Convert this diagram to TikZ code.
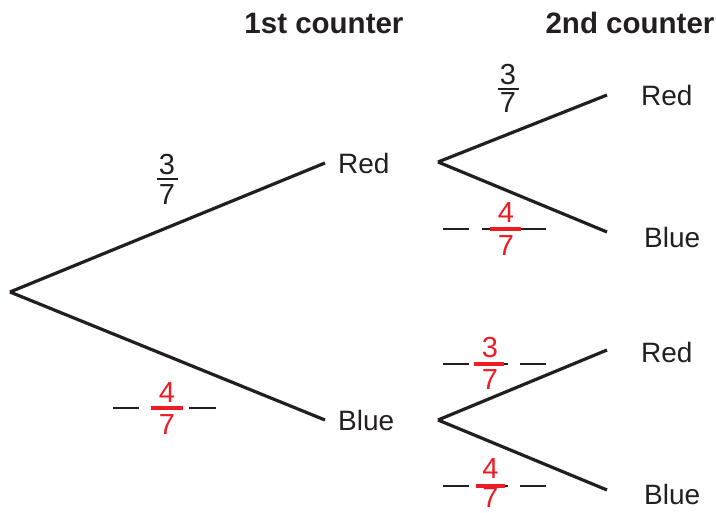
\documentclass[tikz,border=0pt]{standalone}
\usepackage{fontspec}
\setmainfont{Liberation Sans}
\definecolor{ink}{RGB}{35,31,32}
\definecolor{fred}{RGB}{237,28,36}
\begin{document}
\begin{tikzpicture}[x=1pt,y=-1pt,
  branch/.style={line width=3.2pt, draw=ink},
  lbl/.style={font=\fontsize{28}{32}\selectfont, text=ink, inner sep=0pt, anchor=west},
  hdr/.style={font=\fontsize{29.5}{33}\selectfont\bfseries, text=ink, inner sep=0pt},
  bnum/.style={font=\fontsize{29}{32}\selectfont, text=ink, inner sep=0pt},
  rnum/.style={font=\fontsize{29}{32}\selectfont, text=fred, inner sep=0pt},
  fbar/.style={line width=2.2pt, draw=ink},
  rbar/.style={line width=4pt, draw=fred},
  gapline/.style={line width=2.5pt, draw=ink}]
\useasboundingbox (0,0) rectangle (716,513);

% headers
\node[hdr] (h1) at (324,23) {1st counter};
\node[hdr] (h2) at (630,23) {2nd counter};

% tree points
\coordinate (root) at (10,292);
\coordinate (e1r) at (325,163);
\coordinate (e1b) at (325,420);
\coordinate (s2r) at (438,162);
\coordinate (s2b) at (438,420);
\coordinate (e2rr) at (607,95);
\coordinate (e2rb) at (607,232);
\coordinate (e2br) at (607,350);
\coordinate (e2bb) at (607,490);

% labels
\node[lbl] (r1) at (338,163) {Red};
\node[lbl] (b1) at (338,420) {Blue};
\node[lbl] (r2a) at (641,95) {Red};
\node[lbl] (b2a) at (644,237) {Blue};
\node[lbl] (r2b) at (641,352) {Red};
\node[lbl] (b2b) at (644,494) {Blue};

% branches
\draw[branch] (root) -- (e1r);
\draw[branch] (root) -- (e1b);
\draw[branch] (s2r) -- (e2rr);
\draw[branch] (s2r) -- (e2rb);
\draw[branch] (s2b) -- (e2br);
\draw[branch] (s2b) -- (e2bb);

% black fraction 3/7 (first level)
\node[bnum] (f1n) at (167,165) {3};
\node[bnum] (f1d) at (167,195) {7};
\draw[fbar] (157,179) -- (178,179);

% black fraction 3/7 (second level, top)
\node[bnum] (f2n) at (508,75) {3};
\node[bnum] (f2d) at (508,103) {7};
\draw[fbar] (498,89) -- (519,89);

% red fraction 4/7 (first level)
\draw[gapline] (113,408) -- (139,408);
\draw[gapline] (189,408) -- (216,408);
\draw[rbar] (151,408) -- (183,408);
\node[rnum] (f3n) at (167,393) {4};
\node[rnum] (f3d) at (167,425) {7};

% red fraction 4/7 (second level, under Red)
\draw[gapline] (443,229) -- (469,229);
\draw[gapline] (482,229) -- (546,229);
\draw[rbar] (490,229) -- (521,229);
\node[rnum] (f4n) at (506,213) {4};
\node[rnum] (f4d) at (506,246) {7};

% red fraction 3/7 (second level, under Blue)
\draw[gapline] (443,364) -- (469,364);
\draw[gapline] (474,364) -- (508,364);
\draw[gapline] (520,364) -- (546,364);
\draw[rbar] (474,364) -- (504,364);
\node[rnum] (f5n) at (490,348) {3};
\node[rnum] (f5d) at (490,380) {7};

% red fraction 4/7 (second level, bottom)
\draw[gapline] (443,486) -- (469,486);
\draw[gapline] (476,486) -- (508,486);
\draw[gapline] (520,486) -- (546,486);
\draw[rbar] (476,486) -- (505,486);
\node[rnum] (f6n) at (490.5,469) {4};
\node[rnum] (f6d) at (490.5,498) {7};
\end{tikzpicture}
\end{document}
